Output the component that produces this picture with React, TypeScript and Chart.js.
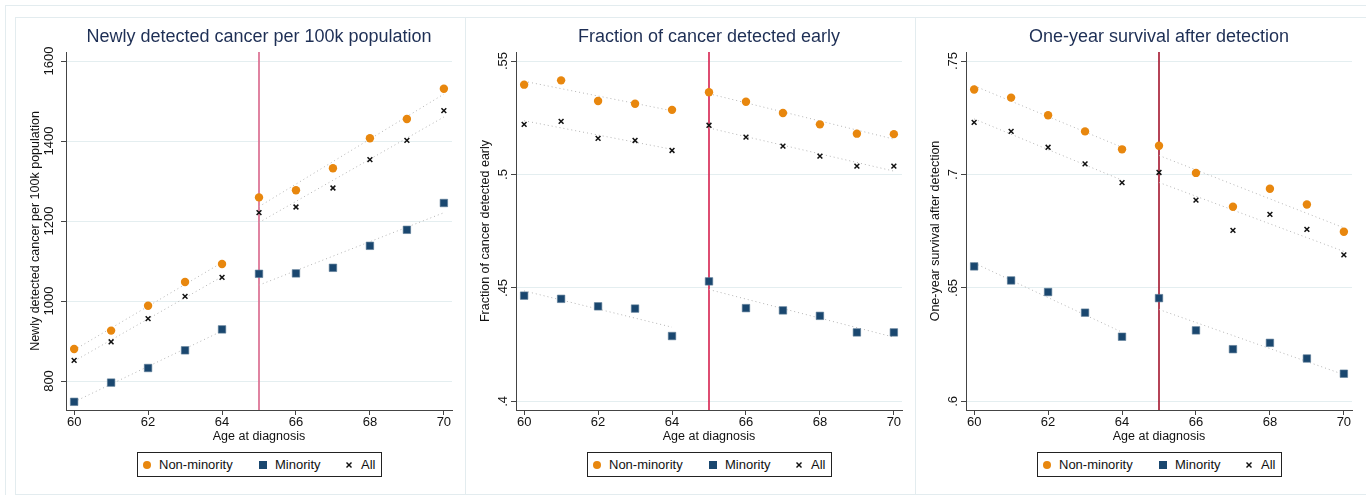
import React, { useEffect, useRef } from "react";
import { Chart, registerables } from "chart.js";
Chart.register(...registerables);

const FONT = "'Liberation Sans', Arial, Helvetica, sans-serif";

const ages = [60, 61, 62, 63, 64, 65, 66, 67, 68, 69, 70];
const xTicks = [60, 62, 64, 66, 68, 70];
const xRange = [59.78, 70.22];
const cutoffAge = 65;
const seriesNames = ["Non-minority", "Minority", "All"];

// Panel 1: newly detected cancer per 100k population
const newNonMinority = [880, 926, 988, 1047.5, 1092.5, 1259, 1276.7, 1331.7, 1406.7, 1455, 1530.8];
const newMinority = [748, 796, 832.5, 876.7, 929, 1068, 1069, 1083, 1138, 1178, 1245];
const newAll = [851.7, 898, 956, 1011.7, 1059, 1220.8, 1235, 1282.5, 1353.3, 1401.7, 1475.8];
// fit line ends: [at 60, at 64, at 65, at 70]
const newFitNonMinority = [877.5, 1096.1, 1236, 1517.3];
const newFitMinority = [747.8, 925, 1039.7, 1220.7];
const newFitAll = [849.7, 1060.9, 1196.3, 1460];
const newYTicks = [800, 1000, 1200, 1400, 1600];
const newYTickLabels = ["800", "1000", "1200", "1400", "1600"];
const newYRange = [727.5, 1622.5];

// Panel 2: fraction of cancer detected early
const earlyNonMinority = [0.5396, 0.5415, 0.5324, 0.5312, 0.5285, 0.5363, 0.5321, 0.5271, 0.5221, 0.518, 0.5178];
const earlyMinority = [0.4466, 0.4452, 0.4419, 0.4409, 0.4288, 0.4529, 0.4411, 0.4401, 0.4377, 0.4304, 0.4304];
const earlyAll = [0.5221, 0.5234, 0.5159, 0.515, 0.5106, 0.5217, 0.5165, 0.5125, 0.5081, 0.5037, 0.5037];
const earlyFitNonMinority = [0.5411, 0.5281, 0.5356, 0.5156];
const earlyFitMinority = [0.4487, 0.4327, 0.4493, 0.4283];
const earlyFitAll = [0.5237, 0.5111, 0.5205, 0.5015];
const earlyYTicks = [0.4, 0.45, 0.5, 0.55];
const earlyYTickLabels = [".4", ".45", ".5", ".55"];
const earlyYRange = [0.3962, 0.554];

// Panel 3: one-year survival after detection
const survNonMinority = [0.7375, 0.7339, 0.7261, 0.719, 0.7111, 0.7127, 0.7007, 0.6858, 0.6937, 0.6868, 0.6748];
const survMinority = [0.6595, 0.6533, 0.6482, 0.6391, 0.6285, 0.6455, 0.6313, 0.623, 0.6258, 0.6189, 0.6122];
const survAll = [0.723, 0.719, 0.712, 0.7047, 0.6964, 0.7009, 0.6887, 0.6754, 0.6824, 0.6758, 0.6646];
const survFitNonMinority = [0.7391, 0.712, 0.7084, 0.6765];
const survFitMinority = [0.661, 0.6305, 0.6405, 0.6118];
const survFitAll = [0.7245, 0.6975, 0.6965, 0.6661];
const survYTicks = [0.6, 0.65, 0.7, 0.75];
const survYTickLabels = [".6", ".65", ".7", ".75"];
const survYRange = [0.5962, 0.754];

const ORANGE = "#e8870e";
const NAVY = "#1a476f";
const BLACK = "#111111";
const FIT = "#b4b4b4";

type Panel = {
  title: string;
  yTitle: string;
  nm: number[];
  mi: number[];
  all: number[];
  fitNm: number[];
  fitMi: number[];
  fitAll: number[];
  yTicks: number[];
  yLabels: string[];
  yRange: number[];
  lineColor: string;
  tickPad: number;
  left: number;
};

const panels: Panel[] = [
  {
    title: "Newly detected cancer per 100k population",
    yTitle: "Newly detected cancer per 100k population",
    nm: newNonMinority, mi: newMinority, all: newAll,
    fitNm: newFitNonMinority, fitMi: newFitMinority, fitAll: newFitAll,
    yTicks: newYTicks, yLabels: newYTickLabels, yRange: newYRange,
    lineColor: "#d9658a", tickPad: -2.5, left: 15,
  },
  {
    title: "Fraction of cancer detected early",
    yTitle: "Fraction of cancer detected early",
    nm: earlyNonMinority, mi: earlyMinority, all: earlyAll,
    fitNm: earlyFitNonMinority, fitMi: earlyFitMinority, fitAll: earlyFitAll,
    yTicks: earlyYTicks, yLabels: earlyYTickLabels, yRange: earlyYRange,
    lineColor: "#d6204e", tickPad: -1, left: 465,
  },
  {
    title: "One-year survival after detection",
    yTitle: "One-year survival after detection",
    nm: survNonMinority, mi: survMinority, all: survAll,
    fitNm: survFitNonMinority, fitMi: survFitMinority, fitAll: survFitAll,
    yTicks: survYTicks, yLabels: survYTickLabels, yRange: survYRange,
    lineColor: "#a3132d", tickPad: -1, left: 915,
  },
];

const CANVAS_W = 444;
const CANVAS_H = 430;

function pts(vals: number[]) {
  return ages.map((a, i) => ({ x: a, y: vals[i] }));
}
function fitSeg(f: number[], side: number) {
  return side === 0
    ? [{ x: ages[0], y: f[0] }, { x: ages[4], y: f[1] }]
    : [{ x: ages[5], y: f[2] }, { x: ages[10], y: f[3] }];
}

function buildConfig(p: Panel): any {
  const fitDs = (f: number[], side: number) => ({
    label: "fit",
    data: fitSeg(f, side),
    showLine: true,
    borderColor: FIT,
    borderWidth: 1,
    borderDash: [1, 3],
    pointRadius: 0,
    fill: false,
  });
  return {
    type: "scatter",
    data: {
      datasets: [
        { label: seriesNames[0], data: pts(p.nm), pointStyle: "circle", pointRadius: 4.2, backgroundColor: ORANGE, borderColor: ORANGE, borderWidth: 0 },
        { label: seriesNames[1], data: pts(p.mi), pointStyle: "rect", pointRadius: 5.3, backgroundColor: NAVY, borderColor: "#5b7a96", borderWidth: 0.6 },
        { label: seriesNames[2], data: pts(p.all), pointStyle: "crossRot", pointRadius: 3.4, backgroundColor: BLACK, borderColor: BLACK, borderWidth: 1.5 },
        fitDs(p.fitNm, 0), fitDs(p.fitNm, 1),
        fitDs(p.fitMi, 0), fitDs(p.fitMi, 1),
        fitDs(p.fitAll, 0), fitDs(p.fitAll, 1),
        {
          label: "cutoff",
          data: [{ x: cutoffAge, y: p.yRange[0] }, { x: cutoffAge, y: p.yRange[1] }],
          showLine: true,
          borderColor: p.lineColor,
          borderWidth: 1.6,
          pointRadius: 0,
        },
      ],
    },
    options: {
      animation: false,
      responsive: false,
      devicePixelRatio: 1,
      layout: { padding: { left: 0, right: 7, top: 0, bottom: 0 } },
      plugins: {
        legend: { display: false },
        tooltip: { enabled: false },
        title: {
          display: true,
          text: p.title,
          fullSize: false,
          color: "#1e2f55",
          font: { family: FONT, size: 18, weight: "normal" },
          padding: { top: 9.2, bottom: 4.2 },
        },
      },
      scales: {
        x: {
          type: "linear",
          min: xRange[0],
          max: xRange[1],
          afterBuildTicks: (s: any) => { s.ticks = xTicks.map((v) => ({ value: v })); },
          afterFit: (s: any) => { s.height = 37; },
          grid: { display: true, drawOnChartArea: false, drawTicks: true, tickLength: 5, tickColor: "#444" },
          border: { display: true, color: "#444", width: 1 },
          ticks: { color: BLACK, font: { family: FONT, size: 13 }, padding: 0, maxRotation: 0, minRotation: 0, autoSkip: false },
          title: { display: true, text: "Age at diagnosis", color: BLACK, font: { family: FONT, size: 12.5 }, padding: { top: 0, bottom: 2.8 } },
        },
        y: {
          type: "linear",
          min: p.yRange[0],
          max: p.yRange[1],
          afterBuildTicks: (s: any) => { s.ticks = p.yTicks.map((v) => ({ value: v })); },
          afterFit: (s: any) => { s.width = 51; },
          grid: { display: true, color: "#e4eef0", lineWidth: 1, drawTicks: true, tickLength: 5, tickColor: "#444" },
          border: { display: true, color: "#444", width: 1 },
          ticks: {
            color: BLACK,
            font: { family: FONT, size: 13 },
            minRotation: 90,
            maxRotation: 90,
            crossAlign: "center",
            padding: p.tickPad,
            autoSkip: false,
            callback: (v: number) => {
              const i = p.yTicks.indexOf(v);
              return i >= 0 ? p.yLabels[i] : "";
            },
          },
          title: { display: true, text: p.yTitle, color: BLACK, font: { family: FONT, size: 12.5 }, padding: { top: 13.5, bottom: 0 } },
        },
      },
    },
  };
}

function PanelChart({ p }: { p: Panel }) {
  const ref = useRef<HTMLCanvasElement | null>(null);
  useEffect(() => {
    if (!ref.current) return;
    const chart = new Chart(ref.current, buildConfig(p));
    return () => chart.destroy();
  }, [p]);
  return (
    <canvas
      ref={ref}
      width={CANVAS_W}
      height={CANVAS_H}
      style={{ position: "absolute", left: p.left, top: 17, width: CANVAS_W, height: CANVAS_H }}
    />
  );
}

function Legend({ left }: { left: number }) {
  const txt: React.CSSProperties = { position: "absolute", top: 0, lineHeight: "23px", fontSize: 13, fontFamily: FONT, color: BLACK, whiteSpace: "nowrap" };
  return (
    <div style={{ position: "absolute", left, top: 452, width: 243, height: 23, border: "1px solid #222", background: "#fff" }}>
      <div style={{ position: "absolute", left: 4.5, top: 7.5, width: 8, height: 8, borderRadius: 4, background: ORANGE }} />
      <span style={{ ...txt, left: 21 }}>{seriesNames[0]}</span>
      <div style={{ position: "absolute", left: 120.5, top: 7.5, width: 8, height: 8, background: NAVY }} />
      <span style={{ ...txt, left: 137 }}>{seriesNames[1]}</span>
      <svg style={{ position: "absolute", left: 207.5, top: 9 }} width={6} height={6}>
        <line x1={0.5} y1={0.5} x2={5.5} y2={5.5} stroke={BLACK} strokeWidth={1.4} />
        <line x1={5.5} y1={0.5} x2={0.5} y2={5.5} stroke={BLACK} strokeWidth={1.4} />
      </svg>
      <span style={{ ...txt, left: 223 }}>{seriesNames[2]}</span>
    </div>
  );
}

export default function App() {
  const legendLefts = [137, 587, 1037];
  return (
    <div style={{ position: "absolute", left: 0, top: 0, width: 1366, height: 495, overflow: "hidden", background: "#fff" }}>
      <div style={{ position: "absolute", left: 5, top: 5, width: 1400, height: 500, borderLeft: "1px solid #e3ecef", borderTop: "1px solid #e3ecef" }} />
      {panels.map((p, i) => (
        <div key={"b" + i} style={{ position: "absolute", left: p.left, top: 17, width: 450, height: 476, borderLeft: "1px solid #e3ecef", borderTop: "1px solid #e3ecef", borderBottom: "1px solid #e3ecef" }} />
      ))}
      {panels.map((p, i) => (
        <PanelChart key={"c" + i} p={p} />
      ))}
      {legendLefts.map((l, i) => (
        <Legend key={"l" + i} left={l} />
      ))}
    </div>
  );
}
